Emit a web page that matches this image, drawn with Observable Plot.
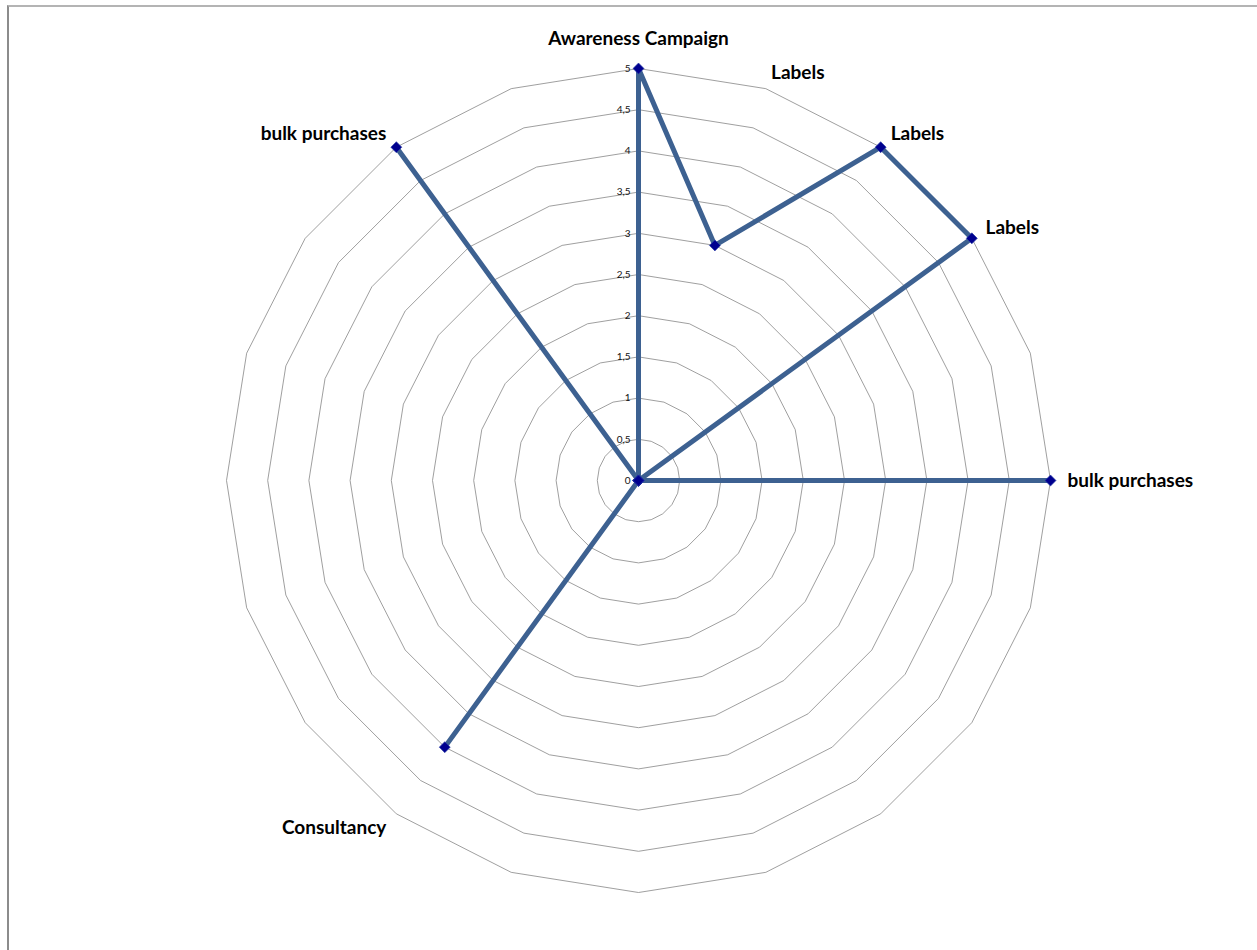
<!DOCTYPE html>
<html>
<head>
<meta charset="utf-8">
<script src="https://cdn.jsdelivr.net/npm/d3@7"></script>
<script src="https://cdn.jsdelivr.net/npm/@observablehq/plot@0.6"></script>
<style>
  html, body { margin: 0; padding: 0; background: #fff; }
  #wrap { position: relative; width: 1257px; height: 950px; overflow: hidden; background: #fff; }
  #border { position: absolute; left: 7px; top: 5px; width: 1300px; height: 1000px; z-index: 2; pointer-events: none;
            border-left: 2px solid #8c8c8c; border-top: 2px solid #b4b4b4; box-sizing: border-box; }
  #chart { position: absolute; left: 0; top: 0; z-index: 1; }
</style>
</head>
<body>
<div id="wrap"><div id="chart"></div><div id="border"></div></div>
<script>
const categories = ["Awareness Campaign","Labels","Labels","Labels","","bulk purchases","","","","","","","Consultancy","","","","","","bulk purchases",""];
const values = [5,3,5,5,0,5,0,0,0,0,0,0,4,0,0,0,0,0,5,0];
const ringLevels = [0.5,1,1.5,2,2.5,3,3.5,4,4.5,5];
const tickLevels = [0,0.5,1,1.5,2,2.5,3,3.5,4,4.5,5];
const tickLabels = ["0","0,5","1","1,5","2","2,5","3","3,5","4","4,5","5"];

const W = 1257, H = 950;
const cx = 638, cy = 480, R = 412; // pixel center and radius of max value
const maxV = 5;
const unit = R / maxV;
const n = categories.length;
const ang = i => (2 * Math.PI * i) / n;

const pts = values.map((v, i) => ({i, v, x: v * Math.sin(ang(i)), y: v * Math.cos(ang(i))}));
const rings = ringLevels.flatMap(l => d3.range(n + 1).map(k => ({l, x: l * Math.sin(ang(k % n)), y: l * Math.cos(ang(k % n))})));
const lab = categories.map((c, i) => {
  const a = ang(i), off = 17 / unit;
  return {c, s: Math.sin(a), x: (maxV + off) * Math.sin(a), y: (maxV + off) * Math.cos(a)};
}).filter(d => d.c !== "");
const ticks = tickLevels.map((t, k) => ({t, label: tickLabels[k]}));

const fs = 19;
const plot = Plot.plot({
  width: W, height: H,
  margin: 0,
  x: {domain: [-cx / unit, (W - cx) / unit], range: [0, W], axis: null},
  y: {domain: [-(H - cy) / unit, cy / unit], range: [H, 0], axis: null},
  style: {fontFamily: "Lato, 'Open Sans', sans-serif", background: "transparent"},
  marks: [
    Plot.line(rings, {x: "x", y: "y", z: "l", stroke: "#868686", strokeWidth: 0.8}),
    Plot.text(ticks, {x: () => 0, y: "t", text: "label", textAnchor: "end", dx: -8, fontSize: 10, fill: "#111"}),
    Plot.line(pts, {x: "x", y: "y", curve: "linear-closed", stroke: "#3D6191", strokeWidth: 5, strokeLinejoin: "miter"}),
    Plot.dot(pts, {x: "x", y: "y", symbol: "square", r: 4.4, rotate: 45, fill: "#00008F", stroke: "#2A3FA8", strokeWidth: 0.6}),
    Plot.text(lab.filter(d => d.s > 0.1), {x: "x", y: "y", text: "c", textAnchor: "start", fontSize: fs, fontWeight: "bold", fill: "#000"}),
    Plot.text(lab.filter(d => d.s < -0.1), {x: "x", y: "y", text: "c", textAnchor: "end", fontSize: fs, fontWeight: "bold", fill: "#000"}),
    Plot.text(lab.filter(d => Math.abs(d.s) <= 0.1), {x: "x", y: "y", text: "c", textAnchor: "middle", dy: -13, fontSize: fs, fontWeight: "bold", fill: "#000"})
  ]
});
document.getElementById("chart").appendChild(plot);
</script>
</body>
</html>
